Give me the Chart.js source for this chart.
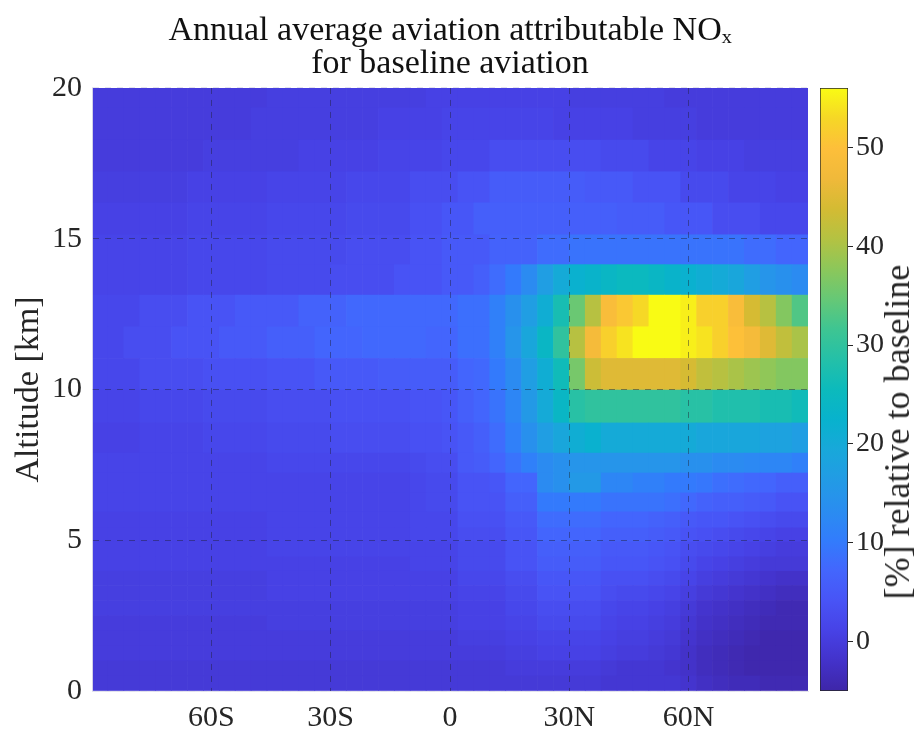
<!DOCTYPE html>
<html>
<head>
<meta charset="utf-8">
<script src="https://cdn.jsdelivr.net/npm/chart.js@4.4.1/dist/chart.umd.min.js"></script>
<style>
  html, body { margin: 0; padding: 0; background: #fff; }
  #wrap { position: relative; width: 916px; height: 731px; overflow: hidden; }
  #main { position: absolute; left: 0; top: 0; }
  #cbar { position: absolute; left: 800px; top: 0; }
  #cbLabel {
    position: absolute; left: 897px; top: 432px;
    transform: translate(-50%, -50%) rotate(-90deg);
    font-family: 'Liberation Serif', 'Times New Roman', serif;
    font-size: 36px; color: #262626; white-space: nowrap;
  }
</style>
</head>
<body>
<div id="wrap">
  <canvas id="main" width="916" height="731"></canvas>
  <canvas id="cbar" width="116" height="731"></canvas>
  <div id="cbLabel">[%] relative to baseline</div>
</div>
<script>
// ---------------------------
// Data
// ---------------------------
const latCenters = [
  -88,-84,-80,-76,-72,-68,-64,-60,-56,-52,
  -48,-44,-40,-36,-32,-28,-24,-20,-16,-12,
  -8,-4,0,4,8,12,16,20,24,28,
  32,36,40,44,48,52,56,60,64,68,
  72,76,80,84,88
];
// model level edges [km]
const altEdges = [0, 0.5, 1.0, 1.5, 2.0, 2.5, 3.0, 3.5, 3.97, 4.45, 4.94, 5.41, 5.94, 6.57,
  7.23, 7.89, 8.89, 9.98, 11.03, 12.08, 13.13, 14.14, 15.13, 16.19, 17.22, 18.27, 19.34, 20];
const latTicks = [-60, -30, 0, 30, 60];
const latLabels = ["60S", "30S", "0", "30N", "60N"];
const altTicks = [0, 5, 10, 15, 20];
const cbTicks = [0, 10, 20, 30, 40, 50];
const cbMin = -5, cbMax = 56;

// aviation attributable NOx [% of baseline], one row per level (bottom -> top), 90S -> 90N
const noxPct = [
  // 0 - 0.5 km
  [-0.5,-0.5,-0.5,-0.5,-0.5,-0.5,-0.5,-0.5,-0.5,-0.5,
   -0.5,-0.5,-0.5,-0.5,-0.5,-0.5,-0.5,-0.5,-0.5,-0.5,
   -0.5,-0.5,-0.5,-0.5,-0.5,-0.5,-0.5,-0.5,-0.5,-0.5,
   -0.5,-0.5,-1,-1,-1,-1,-1,-1.5,-2.5,-3,
   -3.5,-3.5,-4,-4,-4],
  // 0.5 - 1.0
  [-0.5,-0.5,-0.5,-0.5,-0.5,-0.5,-0.5,-0.5,-0.5,-0.5,
   -0.5,-0.5,-0.5,-0.5,-0.5,-0.5,-0.5,-0.5,-0.5,-0.5,
   -0.5,-0.5,-0.5,-0.5,-0.5,-0.5,0,0,0,0,
   0,0,-0.5,-1,-1,-1,-1.5,-2,-3,-3.5,
   -4,-4.5,-4.5,-4.5,-4.5],
  // 1.0 - 1.5
  [0,0,0,0,0,0,0,0,0,0,
   0,0,0,0,0,0,0,0,0,0,
   0,0,0,0,0,0,0.5,0.5,1,1,
   1,1,0.5,0,0,-0.5,-1,-2,-3,-3.5,
   -4,-4.5,-4.5,-4.5,-4.5],
  // 1.5 - 2.0
  [0,0,0,0,0,0,0,0,0,0,
   0,0,0,0,0,0,0,0,0,0,
   0,0,0,0.5,0.5,0.5,1,1,1.5,1.5,
   1.5,1.5,1,0.5,0.5,0,-0.5,-1.5,-2.5,-3,
   -3.5,-4,-4.5,-4.5,-4.5],
  // 2.0 - 2.5
  [0,0,0,0,0,0,0,0,0,0,
   0,0.5,0.5,0.5,0.5,0.5,0.5,0.5,0.5,0.5,
   0.5,0.5,0.5,1,1,1,1.5,1.5,2.5,2.5,
   2.5,2.5,1.5,1,1,0.5,0,-1,-2,-2.5,
   -3,-3.5,-4,-4,-4],
  // 2.5 - 3.0
  [0.5,0.5,0.5,0.5,0.5,0.5,0.5,0.5,0.5,0.5,
   0.5,0.5,0.5,0.5,0.5,0.5,0.5,0.5,0.5,0.5,
   0.5,0.5,0.5,1,1,1,2,2,3,3,
   3,3,2,1.5,1.5,1,0.5,-0.5,-1.5,-2,
   -2.5,-3,-3.5,-4,-4],
  // 3.0 - 3.5
  [0.5,0.5,0.5,0.5,0.5,0.5,0.5,0.5,0.5,0.5,
   0.5,1,1,1,1,1,1,1,1,1,
   1,1,1,1.5,1.5,1.5,2.5,2.5,4,4,
   4,4,3,2.5,2.5,2,1.5,0.5,-0.5,-1,
   -1.5,-2,-2.5,-3,-3],
  // 3.5 - 3.97
  [0.5,0.5,0.5,0.5,0.5,0.5,0.5,0.5,0.5,0.5,
   0.5,1,1,1,1,1,1,1,1,1,
   1,1,1,2,2,2,3,3,4.5,4.5,
   4.5,4.5,3.5,3.5,3.5,3,2.5,1.5,0.5,0,
   -0.5,-1,-1.5,-2,-2],
  // 3.97 - 4.45
  [1,1,1,1,1,1,1,1,1,1,
   1,1,1,1,1,1,1,1,1,1,
   1.5,1.5,1.5,2.5,2.5,2.5,4,4,5.5,5.5,
   5.5,5.5,4.5,4.5,4.5,4,3.5,2.5,1.5,1,
   0.5,0,-0.5,-0.5,-0.5],
  // 4.45 - 4.94
  [1,1,1,1,1,1,1,1,1,1,
   1,1.5,1.5,1.5,1.5,1.5,1.5,1.5,1.5,1.5,
   1.5,1.5,1.5,2.5,2.5,2.5,4,4,6,6,
   6,6,5,5,5,4.5,4,3,2.5,2,
   1.5,1,0.5,0,0],
  // 4.94 - 5.41
  [1,1,1,1,1,1,1,1,1,1,
   1,1.5,1.5,1.5,1.5,1.5,1.5,1.5,1.5,1.5,
   2,2,2,3,3,3,4.5,4.5,7,7,
   7,7,6,6,6,5.5,5,4,3.5,3,
   2.5,2,1.5,1,1],
  // 5.41 - 5.94
  [1,1,1,1,1,1,1,1,1,1,
   1,1.5,1.5,1.5,1.5,1.5,1.5,1.5,1.5,1.5,
   2,2,2,3.5,3.5,3.5,5,5,8,8,
   8,8,7,7,7,6.5,6,5,4.5,4.5,
   4,3.5,3,2.5,2.5],
  // 5.94 - 6.57
  [1.5,1.5,1.5,1.5,1.5,1.5,1.5,1.5,1.5,1.5,
   1.5,1.5,1.5,1.5,1.5,1.5,1.5,1.5,1.5,1.5,
   2,2.5,2.5,4,4,4,6,6,10,10,
   10,10,9,9,9,9,8.5,7.5,6.5,6,
   6,5.5,5,4,4],
  // 6.57 - 7.23
  [1.5,1.5,1.5,1.5,1.5,1.5,1.5,1.5,1.5,1.5,
   1.5,1.5,1.5,1.5,1.5,1.5,1.5,1.5,1.5,1.5,
   2,2.5,2.5,4,4,4.5,7,7,13,14,
   16,16,12,12,11,11,10,10,9.5,8.5,
   8,7.5,7,6,6],
  // 7.23 - 7.89
  [1.5,1.5,1.5,1.5,1.5,1.5,1.5,1.5,1.5,1.5,
   1.5,2,2,2,2,2,2,2,2,2,
   2.5,3,3,5,5.5,7,9,11,13,14,
   15,15,15,15,15,15,15,14,14,13,
   13,12.5,12,12,11],
  // 7.89 - 8.89
  [1,1,1,1.5,1.5,1.5,1.5,2,2,2,
   2,2.5,2.5,2.5,2.5,3,3,3,3,3,
   3.5,3.5,4,5,6,8,11,14,17,19,
   21,22,20,20,20,20,20,20,19,19,
   19,19,18,18,17],
  // 8.89 - 9.98
  [1.5,1.5,1.5,2,2,2,2,2.5,2.5,2.5,
   2.5,3,3,3,3,3.5,3.5,3.5,3.5,3.5,
   4,4,4.5,6,7,9,12,16,20,24,
   29,30,30,30,30,30,30,29,29,28,
   28,28,27,27,26],
  // 9.98 - 11.03
  [2,2,2,3,3,3,3,3.5,3.5,3.5,
   3.5,4,4,4,5,5,5,5,5.5,5.5,
   5.5,5.5,5.5,7,7.5,10,13,17,21,26,
   36,43,45,45,45,45,45,44,42,41,
   40,39,38,37,37],
  // 11.03 - 12.08
  [2,2,3,3,3,4,4,4,5,5,
   5,6,6,6,7,7,7,7.5,7.5,7.5,
   7.5,7,7,8.5,8.5,11,15,19,24,30,
   41,48,52,54,56,56,56,55,54,52,
   50,48,45,42,40],
  // 12.08 - 13.13
  [2,2,2,3,3,3,4,4,4,5,
   5,5,5,6.5,6.5,6.5,7.5,7.5,7.5,7.5,
   7.5,7.5,7.5,8.5,8.5,11,14,17,21,27,
   35,41,49,51,53,56,56,55,52,52,
   49,44,41,37,33],
  // 13.13 - 14.14
  [1.5,1.5,1.5,1.5,1.5,1.5,2,2,2,2,
   2,2.5,2.5,2.5,2.5,3,3,3,3,4,
   4,4,5,5,6,8,10,13,17,20,
   22,23,24,25,25,24,23,22,21,20,
   19,17,15,14,13],
  // 14.14 - 15.13
  [1.5,1.5,1.5,1.5,1.5,1.5,2,2,2,2,
   2,2.5,2.5,2.5,2.5,2.5,3,3,3,3,
   4,4,5,5,5,6.5,6.5,6.5,8,8,
   9,9,9,9,9,9,9,9,9,9,
   9,8,8,7,7],
  // 15.13 - 16.19
  [1,1,1,1,1,1,1.5,1.5,1.5,1.5,
   1.5,2,2,2,2,2,2.5,2.5,2.5,2.5,
   3.5,3.5,4.5,4.5,6,6,6,6,6,6,
   6,6,6,5.5,5.5,5.5,4.5,4.5,4.5,3,
   3,3,2,2,2],
  // 16.19 - 17.22
  [0.5,0.5,0.5,0.5,0.5,0.5,1,1,1,1,
   1,1.5,1.5,1.5,1.5,1.5,2,2,2,2,
   3,3,3,4,4,5.5,5.5,5.5,5.5,5.5,
   5.5,5,5,5,4,4,4,2.5,2.5,2.5,
   1.5,1.5,1.5,1,1],
  // 17.22 - 18.27
  [0,0,0,0,0,0,0,0.5,0.5,0.5,
   0.5,0.5,0.5,1,1,1,1,1,1.5,1.5,
   1.5,1.5,2,2,2,3,3,3,3,3,
   3,3,2.5,2.5,2.5,1.5,1.5,1.5,1,1,
   1,0.5,0.5,0.5,0.5],
  // 18.27 - 19.34
  [0,0,0,0,0,0,0,0,0,0,
   0.5,0.5,0.5,0.5,0.5,0.5,0.5,0.5,1,1,
   1,1,1.5,1.5,1.5,1.5,1.5,1.5,1.5,1,
   1,1,1,1,0.5,0.5,0.5,0.5,0,0,
   0,0,0,0,0],
  // 19.34 - 20
  [0,0,0,0,0,0,0,0,0,0,
   0,0.5,0.5,0.5,0.5,0.5,0.5,0.5,0.5,0.5,
   0.5,1,1,1,1,1,1,1,1,1,
   0.5,0.5,0.5,0.5,0.5,0.5,0,0,0,0,
   0,0,0,0,0]
];

// ---------------------------
// Colour map (parula-like)
// ---------------------------
const parulaStops = [
  [0.00, 62, 38, 168], [0.05, 67, 50, 202], [0.10, 71, 66, 230], [0.15, 72, 84, 246],
  [0.20, 67, 102, 253], [0.25, 50, 124, 252], [0.30, 42, 141, 240], [0.35, 34, 155, 229],
  [0.40, 24, 168, 218], [0.45, 8, 178, 205], [0.50, 12, 186, 188], [0.55, 36, 192, 168],
  [0.60, 62, 197, 146], [0.65, 102, 200, 118], [0.70, 140, 199, 90], [0.75, 180, 194, 66],
  [0.80, 212, 187, 51], [0.85, 240, 185, 58], [0.90, 253, 191, 58], [0.95, 246, 215, 38],
  [1.00, 249, 251, 20]
];

function parula(v) {
  let t = (v - cbMin) / (cbMax - cbMin);
  t = Math.max(0, Math.min(1, t));
  for (let i = 0; i < parulaStops.length - 1; i++) {
    const a = parulaStops[i], b = parulaStops[i + 1];
    if (t <= b[0]) {
      const f = (t - a[0]) / (b[0] - a[0]);
      const c = [1, 2, 3].map(k => Math.round(a[k] + (b[k] - a[k]) * f));
      return `rgb(${c[0]},${c[1]},${c[2]})`;
    }
  }
  const l = parulaStops[parulaStops.length - 1];
  return `rgb(${l[1]},${l[2]},${l[3]})`;
}

const serif = "'Liberation Serif', 'Times New Roman', serif";
const ink = "#262626";
const gridCol = "rgba(30,30,50,0.45)";
const edgeCol = "rgba(225,225,235,0.9)";

// ---------------------------
// Heat map as floating bars
// ---------------------------
const datasets = altEdges.slice(0, -1).map((lo, r) => ({
  data: latCenters.map(lat => ({ x: lat, y: [lo, altEdges[r + 1]] })),
  backgroundColor: noxPct[r].map(parula),
  borderWidth: 0,
  grouped: false,
  barPercentage: 1,
  categoryPercentage: 1
}));

new Chart(document.getElementById("main"), {
  type: "bar",
  data: { datasets },
  options: {
    responsive: false,
    animation: false,
    devicePixelRatio: 1,
    layout: { padding: { left: 0, right: 108, top: 0, bottom: 0 } },
    plugins: {
      legend: { display: false },
      tooltip: { enabled: false },
      title: {
        display: true,
        fullSize: false,
        text: ["Annual average aviation attributable NOₓ", "for baseline aviation"],
        color: "#111",
        font: { family: serif, size: 34, weight: "normal", lineHeight: 0.97 },
        padding: { top: 15, bottom: 7 }
      }
    },
    scales: {
      x: {
        type: "linear",
        min: -90, max: 90,
        offset: false,
        afterBuildTicks: s => { s.ticks = latTicks.map(v => ({ value: v })); },
        afterFit: s => { s.height = 40; },
        ticks: {
          callback: (v, i) => latLabels[i],
          font: { family: serif, size: 30 },
          color: ink, padding: 9, maxRotation: 0, autoSkip: false
        },
        grid: {
          offset: false, drawTicks: false, z: 1, lineWidth: 1,
          color: c => (c.tick && Math.abs(c.tick.value) === 90) ? edgeCol : gridCol
        },
        border: { display: true, color: edgeCol, dash: [6, 6], z: 1 }
      },
      y: {
        min: 0, max: 20,
        afterBuildTicks: s => { s.ticks = altTicks.map(v => ({ value: v })); },
        afterFit: s => { s.width = 92; },
        ticks: { font: { family: serif, size: 30 }, color: ink, padding: 10 },
        grid: {
          drawTicks: false, z: 1, lineWidth: 1,
          color: c => (c.tick && (c.tick.value === 0 || c.tick.value === 20)) ? edgeCol : gridCol
        },
        border: { display: true, color: edgeCol, dash: [6, 6], z: 1 },
        title: {
          display: true, text: "Altitude [km]", color: ink,
          font: { family: serif, size: 34 }, padding: { top: 9, bottom: 0 }
        }
      }
    }
  }
});

// ---------------------------
// Colour bar
// ---------------------------
new Chart(document.getElementById("cbar"), {
  type: "bar",
  data: {
    labels: [""],
    datasets: [{
      data: [[cbMin, cbMax]],
      backgroundColor: ctx => {
        const chart = ctx.chart;
        if (!chart.chartArea) return null;
        const y = chart.scales.y;
        const g = chart.ctx.createLinearGradient(0, y.getPixelForValue(cbMin), 0, y.getPixelForValue(cbMax));
        parulaStops.forEach(s => g.addColorStop(s[0], `rgb(${s[1]},${s[2]},${s[3]})`));
        return g;
      },
      borderColor: ink,
      borderWidth: 1,
      borderSkipped: false,
      barPercentage: 1,
      categoryPercentage: 1
    }]
  },
  options: {
    responsive: false,
    animation: false,
    devicePixelRatio: 1,
    layout: { padding: { left: 20, right: 0, top: 88, bottom: 40 } },
    plugins: { legend: { display: false }, tooltip: { enabled: false } },
    scales: {
      x: { display: false },
      y: {
        position: "right",
        min: cbMin, max: cbMax,
        afterBuildTicks: s => { s.ticks = cbTicks.map(v => ({ value: v })); },
        afterFit: s => { s.width = 68; },
        ticks: { font: { family: serif, size: 28 }, color: ink, padding: 3 },
        grid: { drawOnChartArea: false, drawTicks: true, tickLength: 5, color: ink },
        border: { display: false }
      }
    }
  }
});
</script>
</body>
</html>
